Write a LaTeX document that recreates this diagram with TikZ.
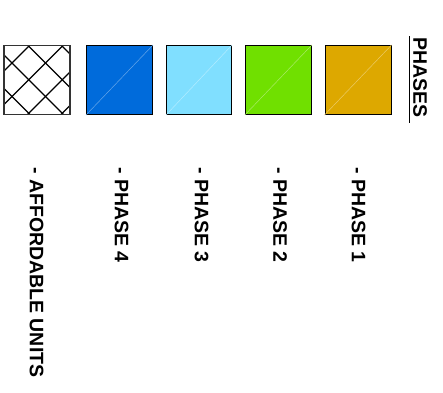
\documentclass[tikz,border=0pt]{standalone}
\usepackage{fontspec}
\setmainfont{Liberation Sans}
\definecolor{pblue}{HTML}{006BDB}
\definecolor{plblue}{HTML}{80DFFF}
\definecolor{pgreen}{HTML}{70E000}
\definecolor{porange}{HTML}{DDA800}
\begin{document}
\begin{tikzpicture}[x=1pt,y=1pt,
  swatch/.style={draw=black,line width=1pt},
  diag/.style={line width=0.5pt},
  lbl/.style={rotate=-90,anchor=west,inner sep=0pt,font=\bfseries\fontsize{19.5}{19.5}\selectfont},
  hatch/.style={line width=1.2pt,black}]
\useasboundingbox (0,0) rectangle (443,-392);
% hatched square
\begin{scope}
\clip (4,-45.5) rectangle (70,-114.5);
\foreach \c in {25.5,59,92.5,126}{
  \draw[hatch] (4+\c,-45.5) -- ++(-80,-80);
}
\foreach \c in {-43,-9.5,24,57.5}{
  \draw[hatch] (4+\c,-45.5) -- ++(80,-80);
}
\end{scope}
\node[swatch,draw=black!80,line width=1.5pt,minimum width=66pt,minimum height=69pt,inner sep=0pt] (au) at (37,-80) {};
% colored squares
\node[swatch,fill=pblue,minimum width=66pt,minimum height=69pt,inner sep=0pt] (p4) at (119.5,-80) {};
\node[swatch,fill=plblue,minimum width=65pt,minimum height=69pt,inner sep=0pt] (p3) at (199,-80) {};
\node[swatch,fill=pgreen,minimum width=66pt,minimum height=69pt,inner sep=0pt] (p2) at (278.3,-80) {};
\node[swatch,fill=porange,minimum width=66pt,minimum height=69pt,inner sep=0pt] (p1) at (358,-80) {};
\draw[diag,draw=pblue!60!white] (p4.south west) -- (p4.north east);
\draw[diag,draw=plblue!60!white] (p3.south west) -- (p3.north east);
\draw[diag,draw=pgreen!60!white] (p2.south west) -- (p2.north east);
\draw[diag,draw=porange!60!white] (p1.south west) -- (p1.north east);
% PHASES title
\node[rotate=-90,anchor=west,inner sep=0pt,font=\bfseries\fontsize{19.5}{19.5}\selectfont] (title) at (420,-37) {PHASES};
\coordinate (ul1) at (409.5,-36);
\coordinate (ul2) at (409.5,-123);
\draw[line width=1pt] (ul1) -- (ul2);
% labels
\node[lbl] (lau) at (36.5,-167) {- AFFORDABLE UNITS};
\node[lbl] (l4) at (121.7,-167) {- PHASE 4};
\node[lbl] (l3) at (201.5,-167) {- PHASE 3};
\node[lbl] (l2) at (280,-167) {- PHASE 2};
\node[lbl] (l1) at (358.5,-167) {- PHASE 1};
\end{tikzpicture}
\end{document}
